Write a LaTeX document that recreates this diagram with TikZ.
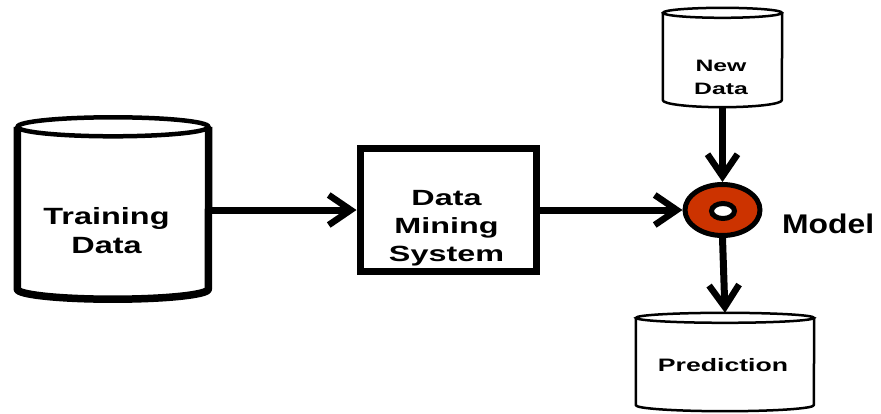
\documentclass[tikz,border=0pt]{standalone}
\usepackage{fontspec}
\usepackage{graphicx}
\setmainfont{Liberation Sans}
\usetikzlibrary{arrows.meta,shapes.geometric}

% horizontally widened text
\newcommand\wtext[2]{\scalebox{#1}[1]{#2}}

\begin{document}
\begin{tikzpicture}[x=1pt,y=1pt,
  body/.style={draw=none,inner sep=0pt,minimum width=#1},
  lbl/.style={inner sep=0pt,align=center,font=\bfseries},
  flow/.style={line width=7pt,-{Straight Barb[length=22pt,width=30pt,line width=6.5pt]}},
  cylside/.style={line width=#1,line join=round},
]
\useasboundingbox (0,0) rectangle (881,-413);

% cylinder bodies (between the centre of the top ellipse and the bottom rim)
\node[body=191pt,minimum height=162pt] (train) at (113,-208) {};
\node[body=119pt,minimum height=87pt] (newdata) at (722.5,-56.5) {};
\node[body=178pt,minimum height=87pt] (pred) at (725,-361.5) {};

% Training Data cylinder
\draw[cylside=7.5pt] (train.north west) -- (train.south west)
  arc (180:360:95.5 and 10) -- (train.north east);
\draw[line width=4.5pt] (train.north) ellipse (95.5 and 9.5);

% New Data cylinder
\draw[cylside=2.5pt] (newdata.north west) -- (newdata.south west)
  arc (180:360:59.5 and 7) -- (newdata.north east);
\draw[line width=2.5pt] (newdata.north) ellipse (59.5 and 5);

% Prediction cylinder
\draw[cylside=2.5pt] (pred.north west) -- (pred.south west)
  arc (180:360:89 and 6) -- (pred.north east);
\draw[line width=2.5pt] (pred.north) ellipse (89 and 5);

% Data Mining System box
\node[draw,line width=7pt,inner sep=0pt,minimum width=176pt,minimum height=123pt]
  (dms) at (448,-210) {};

% model symbol
\node[ellipse,draw,line width=5pt,fill={rgb,255:red,204;green,51;blue,0},
  inner sep=0pt,minimum width=75pt,minimum height=51pt] (model) at (722.5,-210) {};
\node[ellipse,draw,line width=5pt,fill=white,inner sep=0pt,
  minimum width=23pt,minimum height=15pt] (hole) at (723,-211) {};

% labels
\node[lbl,anchor=north,font=\fontsize{23.5}{29}\selectfont\bfseries] (traintxt)
  at (106.5,-207) {\wtext{1.38}{Training}\\\wtext{1.38}{Data}};
\node[lbl,anchor=north,font=\fontsize{22}{28}\selectfont\bfseries] (dmstxt)
  at (446.5,-190) {\wtext{1.47}{Data}\\\wtext{1.47}{Mining}\\\wtext{1.47}{System}};
\node[lbl,anchor=north,font=\fontsize{16.5}{23}\selectfont\bfseries] (newtxt)
  at (721,-60) {\wtext{1.5}{New}\\\wtext{1.5}{Data}};
\node[lbl,anchor=north,font=\fontsize{18}{22}\selectfont\bfseries] (predtxt)
  at (723,-358) {\wtext{1.48}{Prediction}};
\node[lbl,anchor=base west,font=\fontsize{27}{32}\selectfont\bfseries] (modeltxt)
  at (782,-233) {\wtext{1.18}{Model}};

% connectors
\draw[flow] (train.east |- dms.west) -- (dms.west);
\draw[flow] (dms.east) -- (model.west);
\draw[flow] ([yshift=-7pt]newdata.south) -- (model.north);
\draw[flow] (model.south) -- ([yshift=5pt]pred.north);
\end{tikzpicture}
\end{document}
